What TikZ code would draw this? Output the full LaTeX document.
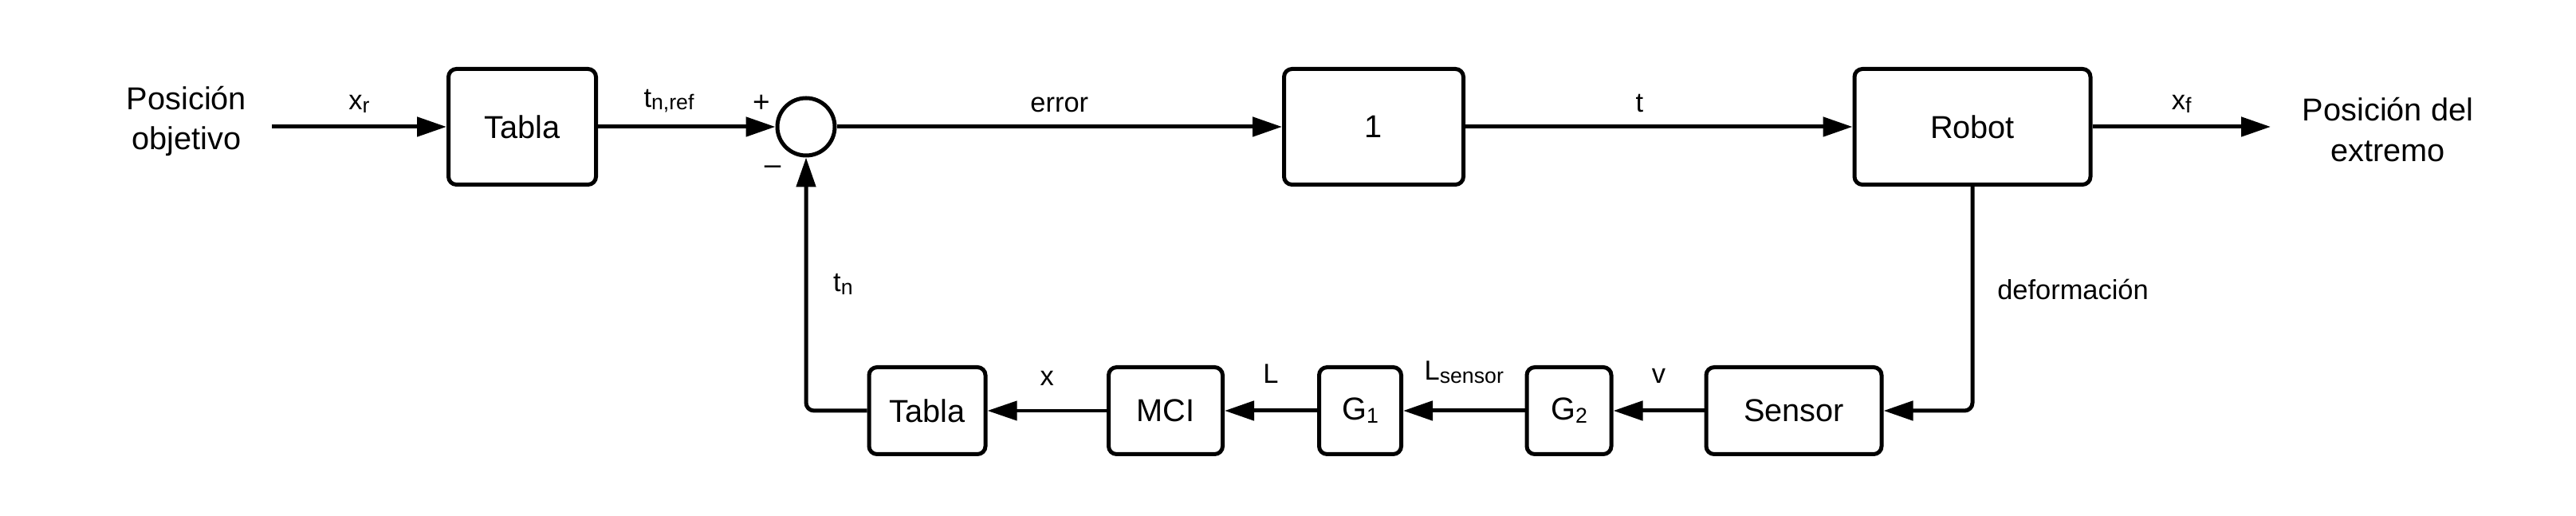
\documentclass[tikz,border=0pt]{standalone}
\usepackage{fontspec}
\setmainfont{Liberation Sans}
\usepackage{tikz}
\usetikzlibrary{arrows.meta}
\newcommand{\idx}[1]{\raisebox{-0.2ex}{\fontsize{7.6}{8}\selectfont #1}}

\begin{document}
\begin{tikzpicture}[
    block/.style={draw, line width=0.05cm, rounded corners=0.1cm, minimum height=1.45cm, inner sep=0pt, font=\fontsize{11.3}{13}\selectfont},
    small/.style={block, minimum height=1.09cm},
    signal/.style={line width=0.05cm, -{Triangle[length=0.37cm,width=0.24cm]}},
    lbl/.style={font=\fontsize{9.8}{11}\selectfont},
    txt/.style={align=center, font=\fontsize{11.3}{14.5}\selectfont}]
                \useasboundingbox (0,0) rectangle (32.31,6.47);

                % forward path
                \node[txt] (obj) at (2.34,4.95) {Posición\\objetivo};
                \node[block, minimum width=1.85cm] (tabla1) at (6.55,4.88) {Tabla};
                \node[draw, circle, line width=0.05cm, minimum size=0.72cm, inner sep=0pt] (sum) at (10.11,4.88) {};
                \node[block, minimum width=2.25cm] (gain) at (17.23,4.88) {1};
                \node[block, minimum width=2.96cm] (robot) at (24.74,4.88) {Robot};
                \node[txt] (ext) at (29.95,4.84) {Posición del\\extremo};
                \coordinate (in) at (3.41,4.88);
                \coordinate (out) at (28.48,4.88);
                \node[lbl, font=\fontsize{10.5}{11}\selectfont] (plus) at (9.55,5.17) {+};
                \node[lbl, font=\fontsize{10.5}{11}\selectfont] (minus) at (9.69,4.34) {–};

                % feedback path
                \node[small, minimum width=2.20cm] (sensor) at (22.50,1.32) {Sensor};
                \node[small, minimum width=1.06cm] (g2) at (19.68,1.32) {G\idx{2}};
                \node[small, minimum width=1.03cm] (g1) at (17.06,1.32) {G\idx{1}};
                \node[small, minimum width=1.43cm] (mci) at (14.62,1.32) {MCI};
                \node[small, minimum width=1.46cm] (tabla2) at (11.63,1.32) {Tabla};

                \draw[signal] (in) -- node[lbl, above=1pt] {x\idx{r}} (tabla1.west);
                \draw[signal] (tabla1.east) -- node[lbl, above=1pt, pos=0.4] {t\idx{n,ref}} (sum.west);
                \draw[signal] (sum.east) -- node[lbl, above=1pt] {error} (gain.west);
                \draw[signal] (gain.east) -- node[lbl, above=1pt, pos=0.45] {t} (robot.west);
                \draw[signal] (robot.east) -- node[lbl, above=1pt] {x\idx{f}} (out);
                \draw[signal, rounded corners=0.1cm] (robot.south) |- node[lbl, right=0.17cm, pos=0.23] {deformación} (sensor.east);
                \draw[signal] (sensor.west) -- node[lbl, above=0.2cm] {v} (g2.east);
                \draw[signal] (g2.west) -- node[lbl, above=0.2cm] {L\idx{sensor}} (g1.east);
                \draw[signal] (g1.west) -- node[lbl, above=0.2cm] {L} (mci.east);
                \draw[signal, line width=0.04cm] (mci.west) -- node[lbl, above=0.18cm] {x} (tabla2.east);
                \draw[signal, rounded corners=0.1cm] (tabla2.west) -| node[lbl, right=0.2cm, pos=0.75] {t\idx{n}} (sum.south);
            \end{tikzpicture}
\end{document}
